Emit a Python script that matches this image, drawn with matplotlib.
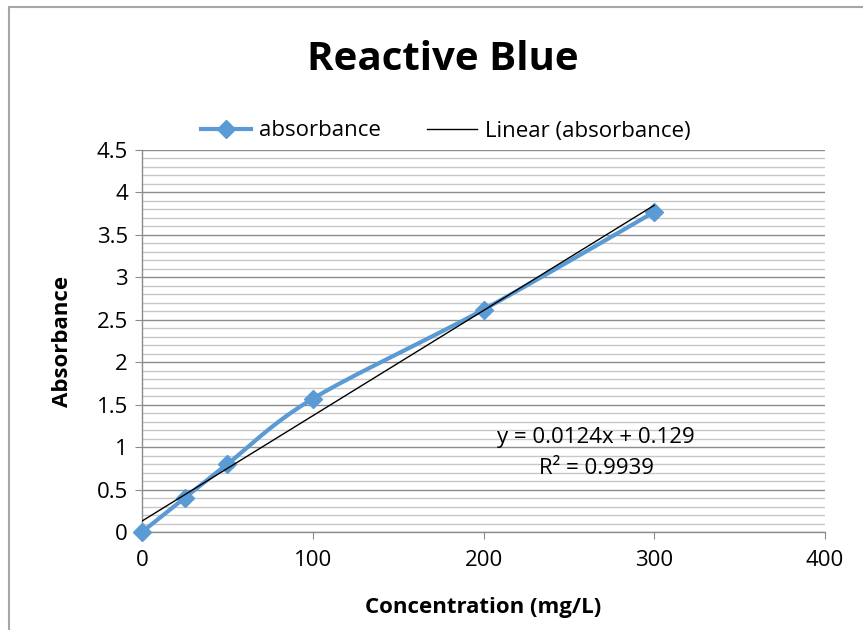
import numpy as np
import matplotlib
matplotlib.use("Agg")
import matplotlib.pyplot as plt
from matplotlib.patches import Rectangle
from matplotlib.ticker import MultipleLocator

plt.rcParams['font.family'] = ['Open Sans', 'DejaVu Sans']

conc = [0, 25, 50, 100, 200, 300]
absorb = [0, 0.40, 0.80, 1.57, 2.62, 3.77]
slope, intercept = 0.0124, 0.129
title = "Reactive Blue"
eq_text = "y = 0.0124x + 0.129"
r2_text = "R² = 0.9939"

def smooth(xs, ys, n=30):
    # Catmull-Rom style smoothing (like Excel smoothed line)
    xs = np.asarray(xs, float); ys = np.asarray(ys, float)
    px = np.concatenate([[xs[0]], xs, [xs[-1]]])
    py = np.concatenate([[ys[0]], ys, [ys[-1]]])
    ox, oy = [], []
    t = 1.0 / 6
    for i in range(1, len(px) - 2):
        p0 = np.array([px[i - 1], py[i - 1]]); p1 = np.array([px[i], py[i]])
        p2 = np.array([px[i + 1], py[i + 1]]); p3 = np.array([px[i + 2], py[i + 2]])
        c1 = p1 + (p2 - p0) * t
        c2 = p2 - (p3 - p1) * t
        s = np.linspace(0, 1, n)[:, None]
        b = ((1 - s) ** 3) * p1 + 3 * ((1 - s) ** 2) * s * c1 + 3 * (1 - s) * s ** 2 * c2 + s ** 3 * p2
        ox.extend(b[:, 0]); oy.extend(b[:, 1])
    return np.array(ox), np.array(oy)

fig = plt.figure(figsize=(8.63, 6.3), dpi=100)
fig.patches.append(Rectangle((9 / 863, -0.1), 1.2, 1 - 7 / 630 + 0.1, transform=fig.transFigure,
                             fill=False, edgecolor='#a6a6a6', linewidth=1.5))

ax = fig.add_axes([142 / 863, 1 - 532 / 630, (825 - 142) / 863, (532 - 150) / 630])
ax.set_xlim(0, 400)
ax.set_ylim(0, 4.5)
ax.xaxis.set_major_locator(MultipleLocator(100))
ax.yaxis.set_major_locator(MultipleLocator(0.5))
ax.yaxis.set_minor_locator(MultipleLocator(0.1))
ax.grid(which='major', axis='y', color='#8c8c8c', linewidth=1.0)
ax.grid(which='minor', axis='y', color='#c8c8c8', linewidth=1.0)
ax.set_axisbelow(True)
for s in ['top', 'right']:
    ax.spines[s].set_visible(False)
for s in ['left', 'bottom']:
    ax.spines[s].set_color('#8c8c8c')
    ax.spines[s].set_linewidth(1.0)
ax.tick_params(axis='both', which='major', direction='out', length=5, color='#8c8c8c',
               labelsize=16, pad=5)
ax.tick_params(axis='y', which='minor', length=0)
ax.tick_params(axis='x', pad=8)
ax.yaxis.set_major_formatter(matplotlib.ticker.FuncFormatter(lambda v, p: f"{v:g}"))

sx, sy = smooth(conc, absorb)
ax.plot(sx, sy, color='#5B9BD5', linewidth=3, zorder=3, solid_capstyle='round', clip_on=False)
ax.plot(conc, absorb, linestyle='none', marker='D', markersize=9.5, color='#5B9BD5', zorder=4, clip_on=False)
tx = np.array([conc[0], conc[-1]])
ax.plot(tx, slope * tx + intercept, color='black', linewidth=1, zorder=5)
ax.plot([], [], color='#5B9BD5', linewidth=3, marker='D', markersize=9.5, label='absorbance')
ax.plot([], [], color='black', linewidth=1, label='Linear (absorbance)')

ax.text(596 / 863, 1 - 438 / 630, eq_text, transform=fig.transFigure, ha='center', va='center', fontsize=16)
ax.text(596 / 863, 1 - 468 / 630, r2_text, transform=fig.transFigure, ha='center', va='center', fontsize=16)

fig.text(443 / 863, 1 - 60 / 630, title, ha='center', va='center', fontsize=29, fontweight='bold')
ax.set_xlabel("Concentration (mg/L)", fontsize=16, fontweight='bold')
ax.xaxis.set_label_coords(0.5, -(607 - 532) / 382)
ax.xaxis.label.set_va('center')
ax.set_ylabel("Absorbance", fontsize=16, fontweight='bold')
ax.yaxis.set_label_coords(-(142 - 62) / 683, 0.5)
ax.yaxis.label.set_va('center')

handles, labels = ax.get_legend_handles_labels()
fig.legend(handles, labels, loc='center', bbox_to_anchor=(446 / 863, 1 - 131 / 630),
           ncol=2, frameon=False, fontsize=16, handlelength=2.25, columnspacing=2.1, handletextpad=0.35)

fig.savefig("out.png", dpi=100)
